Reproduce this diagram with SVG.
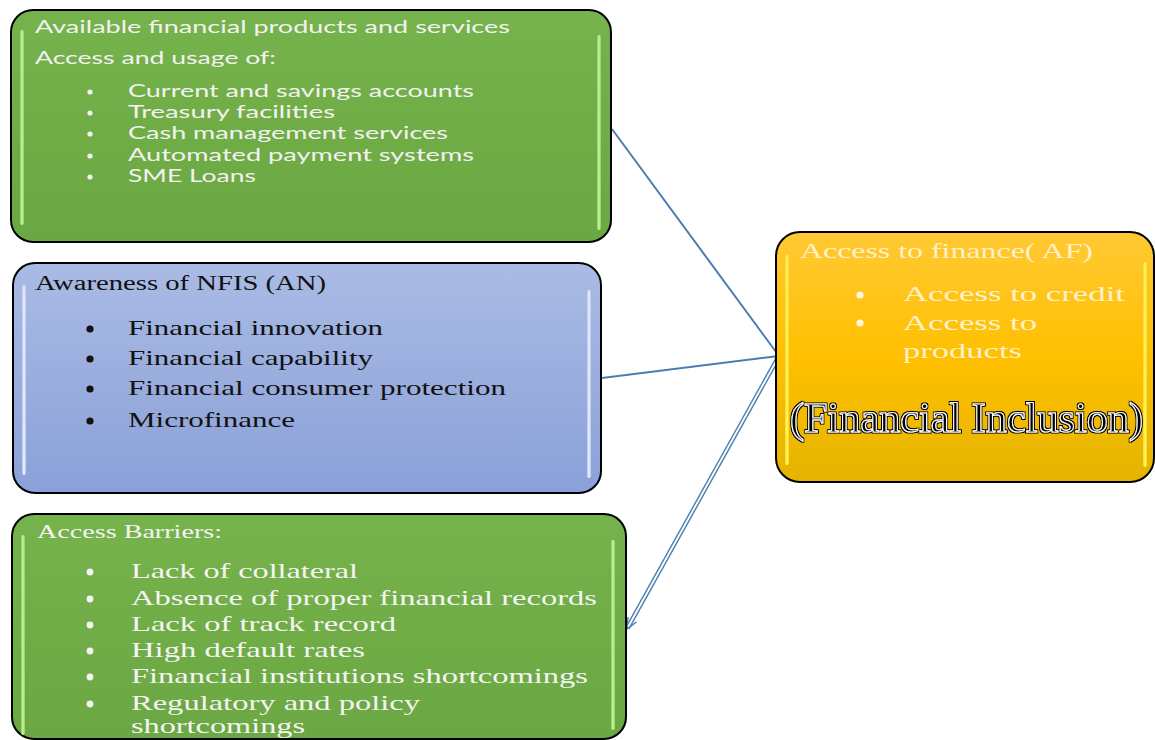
<svg xmlns="http://www.w3.org/2000/svg" width="1155" height="740" viewBox="0 0 1155 740">
<style>
.box{stroke:#000;stroke-width:2}
.sans{font-family:Lato,"Liberation Sans",sans-serif;font-size:17.5px;fill:#F2F2F2}
.serif{font-family:"Liberation Serif","Times New Roman",serif}
.dark{fill:#111}
.white{fill:#F4F4F4}
.pale{fill:#FFF1C9}
.conn{stroke:#4A7EB0;stroke-width:2;fill:none}
.conn2{stroke:#4A7EB0;stroke-width:1.4;fill:none}
</style>
<defs>
<linearGradient id="gGreen" x1="0" y1="0" x2="0" y2="1">
<stop offset="0" stop-color="#77B34C"/><stop offset="1" stop-color="#6BA742"/>
</linearGradient>
<linearGradient id="gBlue" x1="0" y1="0" x2="0" y2="1">
<stop offset="0" stop-color="#AABBE4"/><stop offset="1" stop-color="#8AA0D8"/>
</linearGradient>
<linearGradient id="gYellow" x1="0" y1="0" x2="0" y2="1">
<stop offset="0" stop-color="#FFC934"/><stop offset="0.5" stop-color="#FFC000"/><stop offset="1" stop-color="#E4B400"/>
</linearGradient>
<linearGradient id="hGreen" x1="0" y1="0" x2="1" y2="0">
<stop offset="0" stop-color="#8FCB62"/><stop offset="0.5" stop-color="#C8F7A0"/><stop offset="1" stop-color="#8FCB62"/>
</linearGradient>
<linearGradient id="hBlue" x1="0" y1="0" x2="1" y2="0">
<stop offset="0" stop-color="#B4C4EC"/><stop offset="0.5" stop-color="#EEF3FF"/><stop offset="1" stop-color="#B4C4EC"/>
</linearGradient>
<linearGradient id="hYellow" x1="0" y1="0" x2="1" y2="0">
<stop offset="0" stop-color="#FFD030"/><stop offset="0.5" stop-color="#FFFF60"/><stop offset="1" stop-color="#FFD030"/>
</linearGradient>
<filter id="outline" x="-5%" y="-20%" width="110%" height="140%">
<feMorphology in="SourceAlpha" operator="dilate" radius="1.1" result="d"/>
<feFlood flood-color="#000"/>
<feComposite in2="d" operator="in" result="o"/>
<feMerge><feMergeNode in="o"/><feMergeNode in="SourceGraphic"/></feMerge>
</filter>
</defs>

<g id="connectors">
<line class="conn" x1="612" y1="129" x2="779" y2="356"/>
<line class="conn" x1="602" y1="378" x2="779" y2="356"/>
<line class="conn2" x1="780.4" y1="356.8" x2="628.9" y2="628.8"/>
<line class="conn2" x1="777.6" y1="355.2" x2="626.1" y2="627.2"/>
<polyline class="conn2" points="636.5,622 627,629 628,617"/>
</g>

<g id="node-products">
<rect class="box" x="11" y="10" width="600" height="232" rx="22" fill="url(#gGreen)"/>
<rect x="20" y="30" width="4" height="195" rx="2" fill="url(#hGreen)"/>
<rect x="597" y="35" width="4" height="195" rx="2" fill="url(#hGreen)"/>
<text class="sans" x="35" y="33" textLength="475" lengthAdjust="spacingAndGlyphs">Available financial products and services</text>
<text class="sans" x="35" y="64" textLength="241" lengthAdjust="spacingAndGlyphs">Access and usage of:</text>
<g fill="#F2F2F2">
<circle cx="90" cy="92" r="2.6"/><circle cx="90" cy="113" r="2.6"/><circle cx="90" cy="134" r="2.6"/><circle cx="90" cy="156" r="2.6"/><circle cx="90" cy="177" r="2.6"/>
</g>
<text class="sans" x="128" y="97" textLength="346" lengthAdjust="spacingAndGlyphs">Current and savings accounts</text>
<text class="sans" x="128" y="118" textLength="207" lengthAdjust="spacingAndGlyphs">Treasury facilities</text>
<text class="sans" x="128" y="139" textLength="320" lengthAdjust="spacingAndGlyphs">Cash management services</text>
<text class="sans" x="128" y="161" textLength="346" lengthAdjust="spacingAndGlyphs">Automated payment systems</text>
<text class="sans" x="128" y="182" textLength="128" lengthAdjust="spacingAndGlyphs">SME Loans</text>
</g>

<g id="node-awareness">
<rect class="box" x="13" y="263" width="588" height="230" rx="22" fill="url(#gBlue)"/>
<rect x="22" y="285" width="4" height="190" rx="2" fill="url(#hBlue)"/>
<rect x="587" y="290" width="4" height="188" rx="2" fill="url(#hBlue)"/>
<text class="serif dark" x="35" y="290" font-size="20" textLength="291" lengthAdjust="spacingAndGlyphs">Awareness of NFIS (AN)</text>
<g fill="#111">
<circle cx="90" cy="329" r="3.6"/><circle cx="90" cy="359" r="3.6"/><circle cx="90" cy="389" r="3.6"/><circle cx="90" cy="421" r="3.6"/>
</g>
<text class="serif dark" x="128" y="335" font-size="22" textLength="255" lengthAdjust="spacingAndGlyphs">Financial innovation</text>
<text class="serif dark" x="128" y="365" font-size="22" textLength="245" lengthAdjust="spacingAndGlyphs">Financial capability</text>
<text class="serif dark" x="128" y="395" font-size="22" textLength="378" lengthAdjust="spacingAndGlyphs">Financial consumer protection</text>
<text class="serif dark" x="128" y="427" font-size="22" textLength="167" lengthAdjust="spacingAndGlyphs">Microfinance</text>
</g>

<g id="node-barriers">
<rect class="box" x="12" y="514" width="614" height="225" rx="22" fill="url(#gGreen)"/>
<rect x="21" y="535" width="4" height="200" rx="2" fill="url(#hGreen)"/>
<rect x="611" y="540" width="4" height="190" rx="2" fill="url(#hGreen)"/>
<text class="serif white" x="37" y="538" font-size="19" textLength="185" lengthAdjust="spacingAndGlyphs">Access Barriers:</text>
<g fill="#F4F4F4">
<circle cx="90" cy="572" r="3.4"/><circle cx="90" cy="599" r="3.4"/><circle cx="90" cy="625" r="3.4"/><circle cx="90" cy="651" r="3.4"/><circle cx="90" cy="677" r="3.4"/><circle cx="90" cy="704" r="3.4"/>
</g>
<text class="serif white" x="131" y="578" font-size="21" textLength="227" lengthAdjust="spacingAndGlyphs">Lack of collateral</text>
<text class="serif white" x="131" y="605" font-size="21" textLength="466" lengthAdjust="spacingAndGlyphs">Absence of proper financial records</text>
<text class="serif white" x="131" y="631" font-size="21" textLength="265" lengthAdjust="spacingAndGlyphs">Lack of track record</text>
<text class="serif white" x="131" y="657" font-size="21" textLength="234" lengthAdjust="spacingAndGlyphs">High default rates</text>
<text class="serif white" x="131" y="683" font-size="21" textLength="457" lengthAdjust="spacingAndGlyphs">Financial institutions shortcomings</text>
<text class="serif white" x="131" y="710" font-size="21" textLength="289" lengthAdjust="spacingAndGlyphs">Regulatory and policy</text>
<text class="serif white" x="131" y="733" font-size="21" textLength="174" lengthAdjust="spacingAndGlyphs">shortcomings</text>
</g>

<g id="node-access-finance">
<rect class="box" x="776" y="232" width="378" height="250" rx="24" fill="url(#gYellow)"/>
<rect x="785" y="255" width="4" height="210" rx="2" fill="url(#hYellow)"/>
<rect x="1143" y="262" width="4" height="205" rx="2" fill="url(#hYellow)"/>
<text class="serif pale" x="800" y="258" font-size="21" textLength="293" lengthAdjust="spacingAndGlyphs">Access to finance( AF)</text>
<g fill="#FFF6DC">
<circle cx="860" cy="295" r="3.6"/><circle cx="860" cy="323" r="3.6"/>
</g>
<text class="serif pale" x="903" y="301" font-size="22" textLength="222" lengthAdjust="spacingAndGlyphs">Access to credit</text>
<text class="serif pale" x="903" y="330" font-size="22" textLength="134" lengthAdjust="spacingAndGlyphs">Access to</text>
<text class="serif pale" x="903" y="358" font-size="22" textLength="119" lengthAdjust="spacingAndGlyphs">products</text>
<text class="serif" x="790" y="432" font-size="43" fill="#000" stroke="#fff" stroke-width="1.1" filter="url(#outline)" textLength="353" lengthAdjust="spacingAndGlyphs">(Financial Inclusion)</text>
</g>
</svg>
